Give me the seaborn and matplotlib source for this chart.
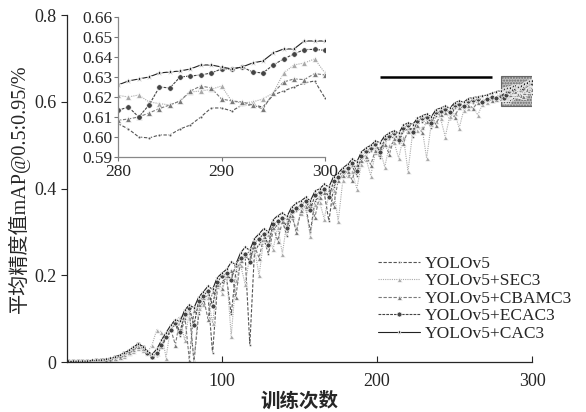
import numpy as np
import pandas as pd
import seaborn as sns
import matplotlib.pyplot as plt
from matplotlib.patches import Rectangle

# epochs sampled in the main view, and every epoch in the zoomed window
epochs_main = list(range(1, 278, 3))
epochs_zoom = list(range(280, 301))

names = ["YOLOv5", "YOLOv5+SEC3", "YOLOv5+CBAMC3", "YOLOv5+ECAC3", "YOLOv5+CAC3"]

yolo_main = [0.001, 0.001, 0.002, 0.002, 0.002, 0.003, 0.003, 0.004, 0.005, 0.007,
             0.009, 0.012, 0.017, 0.022, 0.028, 0.036, 0.030, 0.020, 0.010, 0.015,
             0.035, 0.055, 0.072, 0.088, 0.060, 0.100, 0.118, 0.002, 0.110, 0.142,
             0.155, 0.020, 0.170, 0.185, 0.195, 0.110, 0.210, 0.230, 0.244, 0.040,
             0.255, 0.272, 0.285, 0.250, 0.305, 0.318, 0.326, 0.290, 0.340, 0.348,
             0.355, 0.362, 0.300, 0.372, 0.382, 0.390, 0.325, 0.405, 0.418, 0.430,
             0.440, 0.452, 0.430, 0.468, 0.478, 0.486, 0.494, 0.470, 0.506, 0.514,
             0.520, 0.505, 0.532, 0.538, 0.520, 0.548, 0.554, 0.558, 0.540, 0.568,
             0.574, 0.578, 0.560, 0.586, 0.590, 0.584, 0.596, 0.598, 0.600, 0.594,
             0.602, 0.606, 0.604]
sec_main = [0.001, 0.001, 0.001, 0.002, 0.002, 0.002, 0.003, 0.003, 0.004, 0.006,
            0.008, 0.011, 0.015, 0.020, 0.026, 0.032, 0.028, 0.022, 0.040, 0.075,
            0.070, 0.010, 0.082, 0.095, 0.105, 0.050, 0.115, 0.001, 0.125, 0.135,
            0.150, 0.090, 0.175, 0.160, 0.205, 0.060, 0.190, 0.225, 0.180, 0.245,
            0.262, 0.200, 0.285, 0.295, 0.260, 0.312, 0.250, 0.325, 0.335, 0.310,
            0.345, 0.355, 0.290, 0.365, 0.370, 0.330, 0.388, 0.398, 0.325, 0.420,
            0.432, 0.440, 0.400, 0.458, 0.468, 0.430, 0.484, 0.490, 0.450, 0.500,
            0.508, 0.470, 0.520, 0.440, 0.530, 0.536, 0.542, 0.470, 0.550, 0.556,
            0.562, 0.520, 0.568, 0.575, 0.540, 0.582, 0.586, 0.588, 0.570, 0.595,
            0.600, 0.605, 0.612]
cbam_main = [0.001, 0.001, 0.002, 0.002, 0.002, 0.003, 0.003, 0.004, 0.005, 0.007,
             0.010, 0.013, 0.018, 0.024, 0.030, 0.038, 0.033, 0.024, 0.014, 0.020,
             0.038, 0.060, 0.076, 0.040, 0.100, 0.110, 0.005, 0.120, 0.135, 0.150,
             0.100, 0.165, 0.180, 0.170, 0.200, 0.212, 0.150, 0.235, 0.248, 0.255,
             0.268, 0.240, 0.290, 0.302, 0.312, 0.280, 0.325, 0.335, 0.340, 0.300,
             0.350, 0.360, 0.368, 0.335, 0.382, 0.392, 0.400, 0.360, 0.420, 0.432,
             0.440, 0.420, 0.458, 0.466, 0.476, 0.455, 0.490, 0.496, 0.502, 0.480,
             0.516, 0.522, 0.505, 0.534, 0.540, 0.546, 0.530, 0.556, 0.562, 0.548,
             0.572, 0.576, 0.580, 0.565, 0.588, 0.592, 0.594, 0.585, 0.600, 0.604,
             0.606, 0.604, 0.608]
eca_main = [0.002, 0.002, 0.002, 0.003, 0.003, 0.003, 0.004, 0.005, 0.006, 0.008,
            0.011, 0.015, 0.020, 0.026, 0.033, 0.041, 0.034, 0.022, 0.012, 0.022,
            0.040, 0.058, 0.075, 0.090, 0.070, 0.112, 0.125, 0.085, 0.140, 0.152,
            0.165, 0.130, 0.185, 0.198, 0.205, 0.190, 0.225, 0.240, 0.250, 0.232,
            0.275, 0.285, 0.296, 0.270, 0.318, 0.326, 0.332, 0.310, 0.348, 0.356,
            0.362, 0.372, 0.352, 0.385, 0.392, 0.400, 0.380, 0.418, 0.428, 0.440,
            0.448, 0.460, 0.440, 0.476, 0.486, 0.494, 0.502, 0.485, 0.516, 0.522,
            0.528, 0.512, 0.540, 0.546, 0.530, 0.556, 0.562, 0.566, 0.552, 0.576,
            0.580, 0.584, 0.576, 0.592, 0.596, 0.590, 0.602, 0.604, 0.606, 0.600,
            0.608, 0.612, 0.610]
cac_main = [0.002, 0.002, 0.003, 0.003, 0.003, 0.004, 0.005, 0.006, 0.007, 0.009,
            0.012, 0.016, 0.021, 0.027, 0.034, 0.043, 0.036, 0.025, 0.018, 0.030,
            0.050, 0.068, 0.085, 0.098, 0.094, 0.120, 0.132, 0.125, 0.150, 0.162,
            0.175, 0.168, 0.195, 0.205, 0.214, 0.230, 0.226, 0.252, 0.265, 0.258,
            0.285, 0.296, 0.308, 0.300, 0.328, 0.338, 0.344, 0.336, 0.358, 0.366,
            0.372, 0.380, 0.372, 0.394, 0.400, 0.410, 0.404, 0.428, 0.436, 0.448,
            0.456, 0.468, 0.462, 0.485, 0.494, 0.500, 0.510, 0.506, 0.522, 0.528,
            0.534, 0.528, 0.546, 0.552, 0.548, 0.562, 0.568, 0.572, 0.566, 0.582,
            0.586, 0.590, 0.586, 0.598, 0.602, 0.600, 0.608, 0.610, 0.612, 0.614,
            0.616, 0.620, 0.624]

yolo_zoom = [0.6067, 0.604, 0.600, 0.5995, 0.601, 0.601, 0.604, 0.606, 0.610, 0.6145,
             0.6145, 0.613, 0.616, 0.616, 0.615, 0.621, 0.623, 0.625, 0.627, 0.628, 0.6195]
sec_zoom = [0.6208, 0.620, 0.621, 0.6175, 0.6167, 0.616, 0.618, 0.6225, 0.623, 0.6238,
            0.6255, 0.6178, 0.617, 0.6175, 0.619, 0.622, 0.632, 0.636, 0.637, 0.639, 0.632]
cbam_zoom = [0.6083, 0.609, 0.610, 0.612, 0.6142, 0.616, 0.618, 0.623, 0.6255, 0.6245,
             0.619, 0.618, 0.6175, 0.616, 0.614, 0.622, 0.6275, 0.629, 0.6287, 0.6317, 0.631]
eca_zoom = [0.6133, 0.615, 0.610, 0.616, 0.625, 0.6245, 0.630, 0.6305, 0.631, 0.632,
            0.634, 0.634, 0.635, 0.6325, 0.632, 0.636, 0.639, 0.6415, 0.6437, 0.6438, 0.6433]
cac_zoom = [0.626, 0.628, 0.629, 0.630, 0.632, 0.6325, 0.633, 0.634, 0.636, 0.636,
            0.635, 0.634, 0.635, 0.637, 0.638, 0.642, 0.644, 0.644, 0.648, 0.648, 0.648]

series = {
    names[0]: yolo_main + yolo_zoom,
    names[1]: sec_main + sec_zoom,
    names[2]: cbam_main + cbam_zoom,
    names[3]: eca_main + eca_zoom,
    names[4]: cac_main + cac_zoom,
}
xs = epochs_main + epochs_zoom
rows = []
for n in names:
    for e, v in zip(xs, series[n]):
        rows.append((e, v, n))
df = pd.DataFrame(rows, columns=["epoch", "map", "model"])
dz = df[df["epoch"] >= 280]

pal = {names[0]: "#555555", names[1]: "#aaaaaa", names[2]: "#7a7a7a",
       names[3]: "#444444", names[4]: "#222222"}
mk = {names[0]: ".", names[1]: "^", names[2]: "^", names[3]: "o", names[4]: "*"}
ds = {names[0]: (3, 1.5), names[1]: (1, 1), names[2]: (3, 1.5),
      names[3]: (2.5, 1), names[4]: ""}

sns.set_style("ticks")
plt.rcParams['font.family'] = ['Liberation Serif', 'Noto Sans CJK SC']
plt.rcParams['axes.linewidth'] = 0.9

fig = plt.figure(figsize=(5.86, 4.12), dpi=100)
ax = fig.add_axes([0.114, 0.121, 0.794, 0.842])

ax.add_patch(Rectangle((280, 0.59), 20, 0.07, facecolor="#c0c0c0", edgecolor="#666666",
                       hatch="......", lw=0.8, zorder=0.5))
ax.hlines(0.657, 202, 274, color="black", lw=1.8)

sns.lineplot(data=df, x="epoch", y="map", hue="model", style="model", hue_order=names,
             style_order=names, palette=pal, markers=mk, dashes=ds, ax=ax,
             linewidth=0.8, markersize=3.6, markeredgewidth=0.5)

ax.set_xlim(0, 300)
ax.set_ylim(0, 0.8)
ax.set_xticks([100, 200, 300])
ax.set_yticks([0, 0.2, 0.4, 0.6, 0.8])
ax.set_yticklabels(["0", "0.2", "0.4", "0.6", "0.8"])
ax.tick_params(axis="x", direction="in", length=4, labelsize=13, pad=8)
ax.tick_params(axis="y", direction="out", length=4, labelsize=13)
sns.despine(ax=ax)
ax.set_xlabel("训练次数", fontsize=14, fontweight="bold", labelpad=1)
ax.set_ylabel("平均精度值mAP@0.5:0.95/%", fontsize=14.5, labelpad=3)

h, l = ax.get_legend_handles_labels()
ax.legend(h, l, loc="upper left", bbox_to_anchor=(0.645, 0.38),
          bbox_transform=fig.transFigure, frameon=False,
          fontsize=12.5, handlelength=2.4, labelspacing=0.08, handletextpad=0.3,
          borderaxespad=0.0, borderpad=0.0)

ins = fig.add_axes([0.2014, 0.619, 0.3532, 0.3398])
sns.lineplot(data=dz, x="epoch", y="map", hue="model", style="model", hue_order=names,
             style_order=names, palette=pal, markers=mk, dashes=ds, ax=ins,
             linewidth=0.8, markersize=4, markeredgewidth=0.5, legend=False)
ins.set_xlim(280, 300)
ins.set_ylim(0.59, 0.66)
ins.set_xticks([280, 290, 300])
ins.set_yticks([0.59, 0.60, 0.61, 0.62, 0.63, 0.64, 0.65, 0.66])
ins.set_yticklabels(["0.59", "0.60", "0.61", "0.62", "0.63", "0.64", "0.65", "0.66"])
ins.tick_params(labelsize=12.5, length=3, pad=1, color="#777777")
ins.tick_params(axis="x", pad=2)
ins.set_xlabel("")
ins.set_ylabel("")
sns.despine(ax=ins)
for s in ["left", "bottom"]:
    ins.spines[s].set_color("#888888")
    ins.spines[s].set_linestyle((0, (2, 1)))

fig.savefig("out.png", dpi=100)
